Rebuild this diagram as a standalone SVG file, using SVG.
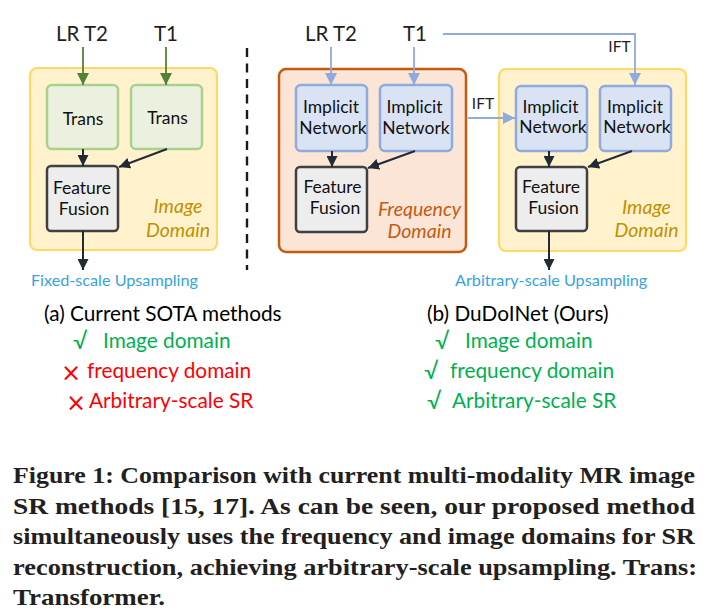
<svg xmlns="http://www.w3.org/2000/svg" width="708" height="616" viewBox="0 0 708 616">
<defs>
<style>
text{font-family:Lato,"Open Sans","Liberation Sans",sans-serif;}
.hdr{font-size:20.5px;fill:#1e1e1e;text-anchor:middle;}
.nt{font-size:17.5px;fill:#111;text-anchor:middle;}
.dom{font-size:19.5px;font-style:italic;text-anchor:middle;}
.ift{font-size:15.5px;fill:#1e1e1e;text-anchor:middle;}
.ups{font-size:16.2px;fill:#36a3dd;}
.lbl{font-size:20.8px;fill:#000;}
.g{font-size:20.8px;fill:#00b050;}
.r{font-size:20.8px;fill:#ff0000;}
.sym{font-size:23px;}
.x{font-family:"DejaVu Sans",sans-serif;font-size:24px;font-weight:normal;}
.cap{font-family:"Liberation Serif","Times New Roman",serif;font-weight:bold;font-size:23px;fill:#231f20;}
.yel{fill:#fff2cc;stroke:#ffd966;stroke-width:2.2;}
.frq{fill:#fbe5d6;stroke:#c55a11;stroke-width:2.5;}
.grn{fill:#ebf1de;stroke:#a9d18e;stroke-width:2.5;}
.blu{fill:#dae3f3;stroke:#8faadc;stroke-width:2.5;}
.ff{fill:#ededed;stroke:#404040;stroke-width:2.5;}
.ag{stroke:#548235;stroke-width:1.8;fill:none;marker-end:url(#mg);}
.ab{stroke:#8faadc;stroke-width:1.8;fill:none;}
.abm{marker-end:url(#mb);}
.ad{stroke:#222a35;stroke-width:2;fill:none;marker-end:url(#md);}
</style>
<marker id="mg" markerUnits="userSpaceOnUse" markerWidth="12" markerHeight="12" viewBox="0 0 10 10" refX="10" refY="5" orient="auto"><path d="M0,0L10,5L0,10z" fill="#548235"/></marker>
<marker id="mb" markerUnits="userSpaceOnUse" markerWidth="12" markerHeight="12" viewBox="0 0 10 10" refX="10" refY="5" orient="auto"><path d="M0,0L10,5L0,10z" fill="#8faadc"/></marker>
<marker id="md" markerUnits="userSpaceOnUse" markerWidth="11" markerHeight="11" viewBox="0 0 10 10" refX="10" refY="5" orient="auto"><path d="M0,0L10,5L0,10z" fill="#222a35"/></marker>
</defs>
<rect width="708" height="616" fill="#ffffff"/>

<g id="left-image-domain">
<rect class="yel" x="30" y="68" width="187" height="182" rx="7"/>
<text class="dom" x="178" y="213" fill="#bf9000">Image</text>
<text class="dom" x="178" y="237" fill="#bf9000">Domain</text>
</g>
<g id="freq-domain">
<rect class="frq" x="279" y="69" width="187" height="183" rx="7"/>
<text class="dom" x="419.5" y="216" fill="#c55a11">Frequency</text>
<text class="dom" x="419.5" y="238" fill="#c55a11">Domain</text>
</g>
<g id="right-image-domain">
<rect class="yel" x="499" y="69" width="187" height="182" rx="7"/>
<text class="dom" x="646.5" y="214" fill="#bf9000">Image</text>
<text class="dom" x="646.5" y="237" fill="#bf9000">Domain</text>
</g>

<g id="in-lrt2-a"><text class="hdr" x="82" y="41">LR T2</text></g>
<g id="in-t1-a"><text class="hdr" x="166" y="41">T1</text></g>
<g id="in-lrt2-b"><text class="hdr" x="331" y="41">LR T2</text></g>
<g id="in-t1-b"><text class="hdr" x="415" y="41">T1</text></g>

<g id="trans1"><rect class="grn" x="47" y="85" width="71" height="64" rx="5"/><text class="nt" x="83" y="125">Trans</text></g>
<g id="trans2"><rect class="grn" x="131" y="85" width="71" height="64" rx="5"/><text class="nt" x="167.5" y="124">Trans</text></g>
<g id="fusion-a"><rect class="ff" x="47" y="166" width="71" height="65" rx="4"/><text class="nt" x="82" y="194">Feature</text><text class="nt" x="84" y="215">Fusion</text></g>

<g id="impl1"><rect class="blu" x="296" y="85" width="71" height="66" rx="5"/><text class="nt" x="331" y="113">Implicit</text><text class="nt" x="333" y="134">Network</text></g>
<g id="impl2"><rect class="blu" x="380" y="85" width="72" height="66" rx="5"/><text class="nt" x="414.5" y="113">Implicit</text><text class="nt" x="416" y="134">Network</text></g>
<g id="fusion-b"><rect class="ff" x="296" y="167" width="71" height="65" rx="4"/><text class="nt" x="332.5" y="193">Feature</text><text class="nt" x="335" y="214">Fusion</text></g>

<g id="impl3"><rect class="blu" x="516" y="86" width="71" height="65" rx="5"/><text class="nt" x="550.5" y="113">Implicit</text><text class="nt" x="553" y="133">Network</text></g>
<g id="impl4"><rect class="blu" x="600" y="86" width="71" height="65" rx="5"/><text class="nt" x="635" y="113">Implicit</text><text class="nt" x="637" y="133">Network</text></g>
<g id="fusion-c"><rect class="ff" x="516" y="167" width="71" height="64" rx="4"/><text class="nt" x="551" y="193">Feature</text><text class="nt" x="553.5" y="214">Fusion</text></g>

<g id="out-a"><text class="ups" x="31" y="286">Fixed-scale Upsampling</text></g>
<g id="out-b"><text class="ups" x="455" y="286">Arbitrary-scale Upsampling</text></g>

<g id="connectors">
<path class="ag" d="M83,47V85"/>
<path class="ag" d="M166,47V85"/>
<path class="ab abm" d="M331,47V85"/>
<path class="ab abm" d="M414,47V85"/>
<path class="ab abm" d="M443,34H635V85"/>
<path class="ab abm" d="M468,118H515"/>
<path class="ad" d="M83,149V166"/>
<path class="ad" d="M167,149L119,167"/>
<path class="ad" d="M83,231V270"/>
<path class="ad" d="M332,151V167"/>
<path class="ad" d="M415,151L368,168"/>
<path class="ad" d="M549,151V167"/>
<path class="ad" d="M632,151L588,167"/>
<path class="ad" d="M549,231V270"/>
<text class="ift" x="619.5" y="52">IFT</text>
<text class="ift" x="483" y="109">IFT</text>
</g>

<line x1="247" y1="48" x2="247" y2="270" stroke="#1a1a1a" stroke-width="2.4" stroke-dasharray="9 6.5"/>

<g id="legend-a">
<text class="lbl" x="44" y="321">(a) Current SOTA methods</text>
<text class="g sym" x="73" y="349">√</text><text class="g" x="103" y="348">Image domain</text>
<text class="r x" x="61" y="381">×</text><text class="r" x="87" y="378">frequency domain</text>
<text class="r x" x="66" y="411">×</text><text class="r" x="89" y="408">Arbitrary-scale SR</text>
</g>
<g id="legend-b">
<text class="lbl" x="427" y="321">(b) DuDoINet (Ours)</text>
<text class="g sym" x="435" y="349">√</text><text class="g" x="465" y="348">Image domain</text>
<text class="g sym" x="424" y="379">√</text><text class="g" x="450" y="378">frequency domain</text>
<text class="g sym" x="427" y="409">√</text><text class="g" x="452" y="408">Arbitrary-scale SR</text>
</g>

<g id="caption">
<text class="cap" x="13" y="483" textLength="682" lengthAdjust="spacingAndGlyphs">Figure 1: Comparison with current multi-modality MR image</text>
<text class="cap" x="13" y="513.5" textLength="682" lengthAdjust="spacingAndGlyphs">SR methods [15, 17]. As can be seen, our proposed method</text>
<text class="cap" x="13" y="544" textLength="682" lengthAdjust="spacingAndGlyphs">simultaneously uses the frequency and image domains for SR</text>
<text class="cap" x="13" y="574.5" textLength="684" lengthAdjust="spacingAndGlyphs">reconstruction, achieving arbitrary-scale upsampling. Trans:</text>
<text class="cap" x="13" y="605" textLength="152" lengthAdjust="spacingAndGlyphs">Transformer.</text>
</g>
</svg>
